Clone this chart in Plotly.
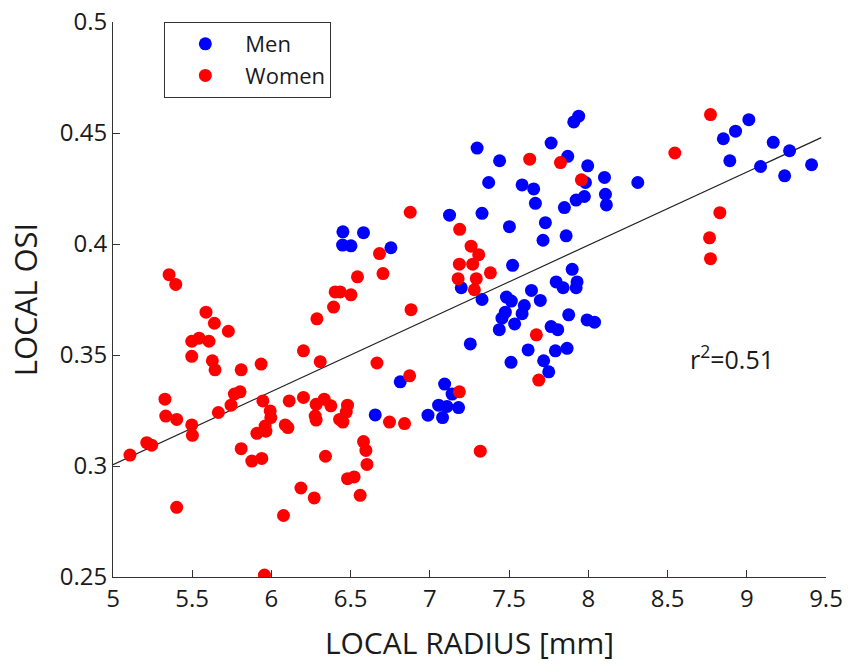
import numpy as np
import plotly.graph_objects as go

men_x = [6.451, 6.581, 6.449, 6.502, 6.754, 6.655, 6.813,
         7.939, 7.908, 7.765, 7.298, 7.440, 7.870, 7.996, 7.371, 7.582, 7.655, 7.982,
         7.975, 7.923, 7.666, 7.849, 7.329, 7.124, 7.502, 7.729, 7.714, 7.860, 7.522,
         7.898, 7.797, 7.841, 7.929, 7.923, 7.198, 7.641, 7.329, 7.697, 7.483, 7.514,
         7.596, 7.476, 7.582, 7.455, 7.535, 7.438, 7.876, 7.992, 8.039, 7.765, 7.807,
         7.255, 7.620, 7.792, 7.866, 7.512, 7.718, 7.750, 7.093, 7.140,
         7.055, 7.108, 7.181, 6.988, 7.080,
         9.013, 8.929, 8.852, 9.167, 9.270, 8.893, 9.087, 9.409, 9.239, 8.312,
         8.102, 8.108, 8.114]
men_y = [0.4055, 0.4051, 0.3995, 0.3992, 0.3983, 0.3230, 0.3379,
         0.4576, 0.4550, 0.4455, 0.4432, 0.4375, 0.4395, 0.4352, 0.4277, 0.4266, 0.4248, 0.4277,
         0.4214, 0.4198, 0.4183, 0.4164, 0.4138, 0.4130, 0.4078, 0.4096, 0.4017, 0.4037, 0.3904,
         0.3886, 0.3829, 0.3803, 0.3829, 0.3803, 0.3803, 0.3791, 0.3750, 0.3746, 0.3761, 0.3743,
         0.3723, 0.3693, 0.3686, 0.3666, 0.3640, 0.3614, 0.3681, 0.3658, 0.3648, 0.3628, 0.3614,
         0.3550, 0.3523, 0.3519, 0.3530, 0.3467, 0.3474, 0.3424, 0.3369, 0.3324,
         0.3274, 0.3268, 0.3263, 0.3229, 0.3218,
         0.4560, 0.4508, 0.4474, 0.4458, 0.4420, 0.4375, 0.4349, 0.4357, 0.4307, 0.4277,
         0.4300, 0.4224, 0.4176]

women_x = [5.354, 5.396, 5.587, 5.640, 5.728, 5.497, 5.543, 5.606, 5.497, 5.627, 5.644,
           5.809, 5.935, 6.287, 6.392, 6.402, 6.434, 6.502, 6.543, 6.682, 6.704, 6.202,
           6.308, 6.666, 5.328, 5.333, 5.402, 5.497, 5.501, 5.213, 5.244, 5.107, 5.665,
           5.745, 5.766, 5.802, 5.946, 5.992, 5.996, 5.960, 5.965, 5.908, 5.809, 5.876,
           5.939, 6.112, 6.087, 6.104, 6.202, 6.282, 6.333, 6.375, 6.276, 6.282, 6.480,
           6.472, 6.430, 6.451, 6.341, 6.581, 6.596, 6.603, 6.480, 6.522, 6.560, 6.186,
           6.270, 6.076, 5.402, 5.956, 6.745, 6.840,
           7.630, 7.824, 7.956, 6.876, 7.188, 7.260, 7.308, 7.186, 7.270, 7.382, 7.178,
           7.293, 7.281, 6.881, 7.672, 6.872, 7.687, 7.186, 7.318,
           8.771, 8.546, 8.830, 8.765, 8.771]
women_y = [0.3862, 0.3818, 0.3693, 0.3643, 0.3607, 0.3562, 0.3576, 0.3562, 0.3494, 0.3474, 0.3433,
           0.3433, 0.3459, 0.3663, 0.3716, 0.3784, 0.3784, 0.3771, 0.3852, 0.3957, 0.3867, 0.3519,
           0.3470, 0.3464, 0.3301, 0.3225, 0.3210, 0.3185, 0.3138, 0.3105, 0.3094, 0.3049, 0.3241,
           0.3274, 0.3324, 0.3334, 0.3293, 0.3248, 0.3218, 0.3180, 0.3157, 0.3147, 0.3078, 0.3022,
           0.3034, 0.3293, 0.3185, 0.3173, 0.3309, 0.3278, 0.3301, 0.3271, 0.3225, 0.3207, 0.3274,
           0.3243, 0.3210, 0.3198, 0.3044, 0.3110, 0.3070, 0.3007, 0.2943, 0.2951, 0.2868, 0.2901,
           0.2856, 0.2777, 0.2814, 0.2509, 0.3198, 0.3191,
           0.4382, 0.4367, 0.4289, 0.4143, 0.4066, 0.3990, 0.3952, 0.3909, 0.3909, 0.3870, 0.3844,
           0.3844, 0.3794, 0.3704, 0.3591, 0.3406, 0.3387, 0.3334, 0.3067,
           0.4583, 0.4410, 0.4141, 0.4028, 0.3934]

fit_x_range = [5.0, 9.47]
r2_label = "r<sup>2</sup>=0.51"

all_x = np.array(men_x + women_x)
all_y = np.array(men_y + women_y)
slope, intercept = np.polyfit(all_x, all_y, 1)
fx = np.array(fit_x_range)
fy = slope * fx + intercept

FONT = "Open Sans"
AX = "#333333"
TXT = "#1a1a1a"

fig = go.Figure()
fig.add_trace(go.Scatter(x=fx, y=fy, mode="lines", line=dict(color="#222222", width=1.2),
                         showlegend=False, hoverinfo="skip"))
fig.add_trace(go.Scatter(x=men_x, y=men_y, mode="markers", name="Men",
                         marker=dict(color="#0000ff", size=13, line=dict(width=0))))
fig.add_trace(go.Scatter(x=women_x, y=women_y, mode="markers", name="Women",
                         marker=dict(color="#ff0000", size=13, line=dict(width=0))))

fig.add_annotation(x=8.905, y=0.349, xref="x", yref="y", text=r2_label, showarrow=False,
                   font=dict(family=FONT, size=25, color=TXT))

fig.update_layout(
    width=848, height=667,
    margin=dict(l=113, r=22, t=22, b=90, autoexpand=False),
    paper_bgcolor="white", plot_bgcolor="white",
    font=dict(family=FONT, color=AX),
    legend=dict(x=0.072, y=1.0, xanchor="left", yanchor="top",
                bordercolor=AX, borderwidth=1, bgcolor="white",
                font=dict(family=FONT, size=22, color=TXT),
                tracegroupgap=0, itemwidth=70),
    xaxis=dict(range=[5, 9.5], tickvals=[5, 5.5, 6, 6.5, 7, 7.5, 8, 8.5, 9, 9.5],
               ticktext=["5", "5.5", "6", "6.5", "7", "7.5", "8", "8.5", "9", "9.5"],
               showgrid=False, zeroline=False, showline=True, linecolor=AX, linewidth=1,
               ticks="inside", ticklen=7, tickcolor=AX, automargin=False,
               tickfont=dict(family=FONT, size=24, color=TXT),
               title=dict(text="LOCAL RADIUS [mm]", font=dict(family=FONT, size=30, color=TXT),
                          standoff=20)),
    yaxis=dict(range=[0.25, 0.5], tickvals=[0.25, 0.3, 0.35, 0.4, 0.45, 0.5],
               ticktext=["0.25", "0.3", "0.35", "0.4", "0.45", "0.5"],
               showgrid=False, zeroline=False, showline=True, linecolor=AX, linewidth=1,
               ticks="inside", ticklen=7, tickcolor=AX, automargin=False,
               tickfont=dict(family=FONT, size=24, color=TXT),
               title=dict(text="LOCAL OSI", font=dict(family=FONT, size=31, color=TXT),
                          standoff=12)),
)

fig.write_html("out.html")
